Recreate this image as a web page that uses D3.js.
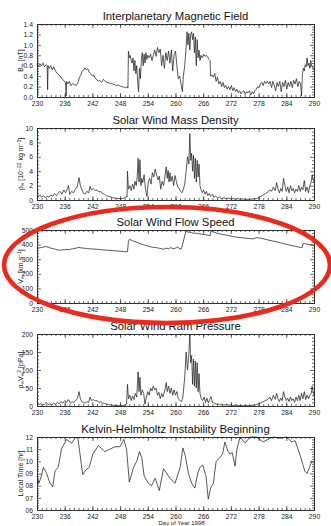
<!DOCTYPE html>
<html><head><meta charset="utf-8">
<script src="https://cdn.jsdelivr.net/npm/d3@7/dist/d3.min.js"></script>
<style>html,body{margin:0;padding:0;background:#fff;}svg{display:block;}</style>
</head><body><div id="chart"></div>
<script>
// ---- data (day of year 1998, value) ----
const xTicks = [230,236,242,248,254,260,266,272,278,284,290];

const imfB = [[230,0.62],[230.3,0.58],[230.6,0.64],[231,0.6],[231.3,0.65],[231.6,0.58],[232,0.62],[232.2,0.6],[232.3,0.14],[232.4,0.6],[232.7,0.55],[233,0.6],[233.3,0.52],[233.6,0.58],[234,0.5],[234.4,0.45],[234.8,0.42],[235.2,0.38],[235.6,0.33],[236,0.3],[236.2,0.28],[236.3,0.02],[236.4,0.3],[236.7,0.25],[237,0.3],[237.3,0.22],[237.7,0.25],[238.1,0.24],[238.5,0.22],[238.9,0.28],[239.2,0.38],[239.5,0.42],[239.8,0.5],[240.1,0.52],[240.4,0.56],[240.7,0.52],[241,0.54],[241.3,0.48],[241.6,0.45],[242,0.4],[242.3,0.42],[242.6,0.36],[243,0.33],[243.3,0.3],[243.6,0.32],[244,0.28],[244.4,0.34],[244.8,0.3],[245.2,0.28],[245.6,0.27],[246,0.26],[246.4,0.25],[246.8,0.24],[247.2,0.22],[247.6,0.23],[248,0.21],[248.4,0.2],[248.8,0.19],[249.2,0.18],[249.5,0.2],[249.7,0.17],[249.8,0.88],[250,0.75],[250.2,0.8],[250.4,0.7],[250.6,0.65],[250.8,0.75],[251,0.5],[251.2,0.7],[251.4,0.45],[251.6,0.6],[251.8,0.3],[252,0.1],[252.2,0.55],[252.4,0.35],[252.6,0.7],[252.8,0.85],[253,0.6],[253.2,0.82],[253.4,0.65],[253.6,0.85],[253.8,0.72],[254,0.8],[254.3,0.75],[254.6,0.82],[254.9,0.7],[255.2,0.8],[255.5,0.9],[255.8,0.78],[256.1,0.95],[256.4,0.85],[256.7,0.92],[257,0.6],[257.3,0.8],[257.6,0.55],[257.9,0.85],[258.2,0.7],[258.5,0.88],[258.8,0.65],[259.1,0.9],[259.4,0.5],[259.7,0.82],[260,0.88],[260.3,0.6],[260.6,0.35],[260.9,0.4],[261.2,0.25],[261.5,0.1],[261.7,0.4],[262,0.6],[262.3,0.95],[262.5,1.25],[262.7,1.0],[262.9,1.22],[263.1,0.9],[263.3,1.2],[263.5,1.25],[263.7,1.1],[263.9,1.22],[264.1,0.85],[264.3,1.15],[264.5,0.6],[264.7,1.1],[264.9,0.75],[265.1,0.9],[265.3,0.7],[265.5,0.8],[265.8,0.75],[266.1,0.82],[266.4,0.78],[266.7,0.8],[267,0.76],[267.3,0.72],[267.5,0.7],[267.6,0.4],[267.9,0.42],[268.2,0.38],[268.5,0.45],[268.8,0.3],[269.1,0.38],[269.4,0.25],[269.7,0.3],[270,0.2],[270.3,0.28],[270.6,0.18],[270.9,0.22],[271.2,0.15],[271.5,0.2],[271.8,0.14],[272.1,0.22],[272.4,0.12],[272.7,0.18],[273,0.1],[273.3,0.15],[273.6,0.08],[273.9,0.12],[274.2,0.06],[274.5,0.1],[274.8,0.12],[275.1,0.05],[275.4,0.1],[275.7,0.08],[276,0.12],[276.3,0.04],[276.6,0.1],[276.9,0.06],[277.2,0.12],[277.5,0.15],[277.8,0.2],[278.1,0.18],[278.4,0.25],[278.7,0.28],[279,0.22],[279.3,0.3],[279.6,0.26],[279.9,0.3],[280.2,0.25],[280.5,0.3],[280.8,0.18],[281.1,0.3],[281.4,0.22],[281.7,0.12],[282,0.28],[282.3,0.2],[282.6,0.3],[282.9,0.1],[283.2,0.28],[283.5,0.2],[283.8,0.32],[284.1,0.15],[284.4,0.28],[284.7,0.2],[285,0.3],[285.3,0.18],[285.6,0.32],[285.9,0.25],[286.2,0.35],[286.5,0.2],[286.8,0.3],[287.1,0.25],[287.3,0.02],[287.5,0.45],[287.7,0.55],[287.9,0.5],[288.1,0.62],[288.3,0.58],[288.5,0.75],[288.7,0.6],[288.9,0.65],[289.1,0.55],[289.3,0.7],[289.5,0.6],[289.7,0.58],[290,0.52]];

const massDensity = [[230,0.8],[230.3,0.5],[230.6,0.7],[231,0.4],[231.4,0.6],[231.8,0.3],[232.2,0.5],[232.6,0.4],[233,0.7],[233.4,0.5],[233.8,0.9],[234.2,0.6],[234.6,1.0],[235,1.2],[235.4,0.8],[235.8,1.4],[236.2,1.0],[236.6,1.6],[236.8,2.0],[237.1,0.8],[237.5,1.2],[237.9,1.0],[238.3,1.5],[238.7,1.8],[239.1,3.1],[239.4,2.0],[239.7,1.5],[240,1.0],[240.4,0.8],[240.8,1.2],[241.2,1.0],[241.5,1.9],[241.8,1.4],[242.2,1.6],[242.6,1.3],[243,1.4],[243.4,1.1],[243.8,1.2],[244.2,0.9],[244.6,0.8],[245,0.6],[245.5,0.5],[246,0.4],[246.5,0.3],[247,0.25],[247.5,0.2],[248,0.2],[248.5,0.2],[249,0.3],[249.3,0.5],[249.5,0.4],[249.6,4.0],[249.8,1.5],[250.1,2.0],[250.4,1.3],[250.7,2.2],[251,1.5],[251.2,2.6],[251.5,2.0],[251.7,3.2],[251.9,5.8],[252.1,2.5],[252.3,5.6],[252.5,2.0],[252.7,3.0],[252.9,2.4],[253.2,3.5],[253.5,1.5],[253.8,0.5],[254.1,2.5],[254.4,3.0],[254.7,2.2],[255,3.8],[255.3,3.2],[255.6,4.3],[255.9,3.5],[256.2,2.8],[256.5,3.3],[256.8,1.5],[257.1,2.6],[257.4,2.0],[257.7,3.2],[258,4.6],[258.2,3.0],[258.4,4.1],[258.6,2.5],[258.8,3.8],[259,2.6],[259.3,3.3],[259.6,2.0],[259.9,3.4],[260.2,2.5],[260.5,1.8],[260.8,1.6],[261.1,1.2],[261.4,1.0],[261.7,1.5],[262,2.2],[262.3,4.0],[262.6,6.0],[262.9,5.0],[263.1,9.2],[263.3,5.5],[263.5,6.5],[263.7,4.0],[263.9,6.2],[264.1,3.0],[264.3,5.8],[264.5,2.5],[264.7,5.5],[264.9,3.2],[265.1,5.0],[265.3,2.0],[265.5,1.5],[265.8,1.0],[266.1,1.4],[266.4,0.8],[266.7,1.2],[267,0.6],[267.3,0.9],[267.6,0.5],[268,0.8],[268.3,0.4],[268.7,0.5],[269.1,0.3],[269.5,0.4],[270,0.2],[270.5,0.3],[271,0.2],[271.5,0.25],[272,0.15],[272.5,0.2],[273,0.1],[273.5,0.2],[274,0.1],[274.5,0.15],[275,0.1],[275.5,0.1],[276,0.1],[276.5,0.12],[277,0.15],[277.5,0.2],[278,0.3],[278.5,0.5],[279,0.7],[279.5,0.9],[280,1.1],[280.4,1.4],[280.8,1.2],[281.2,1.8],[281.6,1.3],[281.9,2.4],[282.2,1.5],[282.5,1.0],[282.8,1.6],[283.1,1.2],[283.4,3.0],[283.7,2.0],[284,1.2],[284.3,1.8],[284.6,1.0],[284.9,2.0],[285.2,1.3],[285.5,1.6],[285.8,1.0],[286.1,1.5],[286.4,1.2],[286.7,2.0],[287,1.2],[287.3,1.8],[287.6,1.4],[287.9,2.7],[288.2,1.2],[288.5,1.8],[288.8,1.0],[289.1,2.0],[289.4,2.5],[289.6,3.5],[289.8,2.8],[290,2.5]];

const flowSpeed = [[230,372],[230.5,378],[231,380],[231.5,384],[232,386],[232.5,382],[233,376],[233.5,372],[234,368],[234.5,364],[235,362],[235.5,364],[236,365],[236.5,367],[237,366],[237.5,370],[238,372],[238.5,376],[239,381],[239.5,378],[240,376],[240.5,374],[241,372],[241.5,371],[242,370],[243,368],[244,365],[245,362],[246,360],[247,357],[248,355],[249,352],[249.6,351],[249.8,420],[250,435],[250.5,430],[251,422],[251.5,418],[252,410],[252.5,404],[253,400],[253.5,395],[254,390],[254.5,386],[255,382],[255.5,380],[256,378],[256.5,375],[257,372],[257.5,368],[258,376],[258.5,371],[259,380],[259.5,370],[260,376],[260.5,382],[261,370],[261.3,372],[261.6,410],[262,460],[262.3,490],[262.7,486],[263,485],[263.5,482],[264,478],[264.5,478],[265,475],[265.5,472],[266,470],[266.5,468],[267,465],[267.5,460],[267.7,495],[268,488],[268.5,484],[269,478],[269.5,474],[270,470],[270.5,468],[271,465],[271.5,462],[272,458],[272.5,455],[273,452],[274,448],[275,445],[276,441],[277,440],[277.5,448],[278,446],[278.5,444],[279,440],[280,432],[281,425],[282,418],[283,410],[284,402],[285,395],[286,388],[287,381],[287.4,378],[287.6,405],[288,406],[288.5,404],[289,400],[289.5,398],[290,393]];

const ramPressure = [[230,8],[230.4,4],[230.8,6],[231.2,3],[231.6,5],[232,10],[232.4,4],[232.8,6],[233.2,3],[233.6,8],[234,5],[234.4,10],[234.8,6],[235.2,12],[235.6,8],[236,15],[236.4,10],[236.8,18],[237.2,8],[237.6,12],[238,10],[238.4,15],[238.8,22],[239.1,40],[239.4,20],[239.7,12],[240,10],[240.4,8],[240.8,12],[241.2,10],[241.5,25],[241.8,15],[242.2,18],[242.6,14],[243,15],[243.4,10],[243.8,12],[244.2,8],[244.6,7],[245,6],[245.5,4],[246,3],[246.5,2],[247,1.5],[247.5,1],[248,1],[248.5,1],[249,2],[249.4,6],[249.6,60],[249.8,20],[250.1,30],[250.4,15],[250.7,28],[251,18],[251.3,35],[251.6,25],[251.9,95],[252.1,40],[252.3,80],[252.5,30],[252.8,45],[253.1,35],[253.4,5],[253.7,25],[254,40],[254.3,30],[254.6,50],[254.9,42],[255.2,55],[255.5,45],[255.8,50],[256.1,30],[256.4,38],[256.7,20],[257,35],[257.3,25],[257.7,45],[258,65],[258.2,40],[258.5,55],[258.8,35],[259.1,50],[259.4,30],[259.7,45],[260,30],[260.3,40],[260.6,20],[261,15],[261.3,12],[261.6,25],[262,80],[262.3,150],[262.6,100],[262.9,145],[263.1,200],[263.3,120],[263.5,140],[263.7,60],[263.9,130],[264.1,55],[264.3,125],[264.5,50],[264.7,120],[264.9,40],[265.1,90],[265.3,35],[265.6,20],[265.9,15],[266.2,25],[266.5,10],[266.8,22],[267.1,8],[267.4,18],[267.7,26],[268,10],[268.4,8],[268.8,5],[269.2,6],[269.6,3],[270,5],[270.5,2],[271,5],[271.5,2],[272,3],[272.5,1],[273,3],[273.5,1],[274,1],[274.5,1],[275,1],[275.5,1],[276,1],[276.5,2],[277,2],[277.5,4],[278,6],[278.5,8],[279,12],[279.5,15],[280,18],[280.4,25],[280.8,15],[281.2,30],[281.6,18],[281.9,35],[282.2,20],[282.5,12],[282.8,22],[283.1,15],[283.4,40],[283.7,25],[284,15],[284.3,22],[284.6,12],[284.9,25],[285.2,15],[285.5,20],[285.8,10],[286.1,25],[286.4,15],[286.7,30],[287,15],[287.3,35],[287.6,20],[287.9,40],[288.2,18],[288.5,30],[288.8,20],[289.1,30],[289.4,35],[289.6,55],[289.8,40],[290,30]];

const khLocalTime = [[230,8.8],[230.4,8.2],[230.8,8.6],[231.4,9.5],[232.1,9.0],[232.8,8.2],[233.4,7.9],[233.9,9.2],[234.6,9.5],[235.3,11.0],[236.4,11.8],[237.5,11.5],[238.4,12.0],[238.9,11.8],[239.9,8.9],[240.6,9.3],[241.3,9.5],[242.1,10.6],[243.3,11.3],[244.7,10.8],[245.8,11.0],[246.9,11.2],[248,11.2],[248.8,11.8],[249.4,11.0],[250,8.3],[250.9,9.5],[251.6,10.0],[252.2,10.8],[252.7,10.3],[253.2,8.8],[254.1,8.2],[254.8,8.0],[255.6,8.6],[256.5,7.6],[257.4,9.4],[258.1,9.0],[258.8,8.6],[259.9,8.2],[261,9.5],[261.6,11.1],[262.1,10.5],[262.8,9.0],[263.5,8.2],[264.2,7.8],[264.8,9.0],[265.3,9.5],[265.9,9.7],[266.6,8.8],[267.1,6.9],[267.6,7.8],[268.2,8.2],[268.8,10.0],[269.6,10.3],[270.2,10.6],[270.7,11.6],[271.4,10.8],[271.8,10.6],[272.3,10.7],[272.9,9.6],[273.3,11.0],[274,12.0],[275.1,11.5],[276.1,12.0],[277.5,12.0],[279,11.6],[280,11.8],[281.2,12.0],[282.6,11.9],[284,12.0],[285.2,11.6],[285.9,11.7],[287,10.5],[288,9.2],[288.5,9.0],[289.5,10.0],[290,9.9]];

// ---- panel definitions ----
const panels = [
  {title:"Interplanetary Magnetic Field", data:imfB, dom:[0,1.4], ticks:[0,0.2,0.4,0.6,0.8,1.0,1.2,1.4], fmt:d3.format(".1f"), minor:4, top:24, bottom:97, ylabParts:[["B",""],["∞","sub"],[" [nT]",""]]},
  {title:"Solar Wind Mass Density", data:massDensity, dom:[0,10], ticks:[0,2,4,6,8,10], fmt:d3.format("d"), minor:4, top:128, bottom:200, ylabParts:[["ρ",""],["∞","sub"],[" [10",""],["−22","sup"],[" kg m",""],["−3","sup"],["]",""]]},
  {title:"Solar Wind Flow Speed", data:flowSpeed, dom:[0,500], ticks:[0,100,200,300,400,500], fmt:d3.format("d"), minor:5, top:230, bottom:303, ylabParts:[["V",""],["∞","sub"],[" [km s",""],["−1","sup"],["]",""]]},
  {title:"Solar Wind Ram Pressure", data:ramPressure, dom:[0,200], ticks:[0,50,100,150,200], fmt:d3.format("d"), minor:5, top:334, bottom:406, ylabParts:[["ρ",""],["∞","sub"],["V",""],["∞","sub"],["2","sup"],[" [pPa]",""]]},
  {title:"Kelvin-Helmholtz Instability Beginning", data:khLocalTime, dom:[6,12], ticks:[6,7,8,9,10,11,12], fmt:d => (d<10?"0":"")+d, minor:5, top:437, bottom:510, ylabParts:[["Local Time  [hr]",""]]}
];

const W = 331, H = 526, L = 37, R = 314;
const svg = d3.select("#chart").append("svg").attr("width",W).attr("height",H)
  .style("font-family","'Liberation Sans', Arial, Helvetica, sans-serif");

const x = d3.scaleLinear().domain([230,290]).range([L,R]);
const ink = "#2a2a2a";

panels.forEach(p => {
  const y = d3.scaleLinear().domain(p.dom).range([p.bottom,p.top]);
  const g = svg.append("g");
  g.append("text").attr("x",(L+R)/2).attr("y",p.top-4.5).attr("text-anchor","middle")
    .attr("font-size",11.3).attr("fill","#111").text(p.title);
  const xMinor = d3.range(230,291,1);
  const yMinor = [];
  for (let i=0;i<p.ticks.length-1;i++){const a=p.ticks[i],b=p.ticks[i+1];for(let k=1;k<p.minor;k++)yMinor.push(a+(b-a)*k/p.minor);}
  const xb = d3.axisBottom(x).tickValues(xTicks).tickSize(-4).tickFormat(d3.format("d")).tickPadding(4.5);
  const xbm = d3.axisBottom(x).tickValues(xMinor).tickSize(-2).tickFormat("");
  const xt = d3.axisTop(x).tickValues(xTicks).tickSize(-4).tickFormat("");
  const xtm = d3.axisTop(x).tickValues(xMinor).tickSize(-2).tickFormat("");
  const yl = d3.axisLeft(y).tickValues(p.ticks).tickSize(-4).tickFormat(p.fmt).tickPadding(4);
  const ylm = d3.axisLeft(y).tickValues(yMinor).tickSize(-2).tickFormat("");
  const yr = d3.axisRight(y).tickValues(p.ticks).tickSize(-4).tickFormat("");
  const yrm = d3.axisRight(y).tickValues(yMinor).tickSize(-2).tickFormat("");
  const add = (ax,tr)=>{const a=g.append("g").attr("transform",tr).call(ax);
    a.select(".domain").attr("stroke",ink).attr("stroke-width",0.8);
    a.selectAll(".tick line").attr("stroke",ink).attr("stroke-width",0.7);
    a.selectAll("text").attr("font-size",6.8).attr("fill","#222").attr("font-family","'Liberation Sans', Arial, sans-serif");
    return a;};
  add(xb,`translate(0,${p.bottom})`); add(xbm,`translate(0,${p.bottom})`);
  add(xt,`translate(0,${p.top})`); add(xtm,`translate(0,${p.top})`);
  add(yl,`translate(${L},0)`); add(ylm,`translate(${L},0)`);
  add(yr,`translate(${R},0)`); add(yrm,`translate(${R},0)`);
  g.append("path").datum(p.data)
    .attr("d", d3.line().x(d=>x(d[0])).y(d=>y(d[1])))
    .attr("fill","none").attr("stroke","#222").attr("stroke-width",0.75).attr("stroke-linejoin","round");
  const cy = (p.top+p.bottom)/2;
  const t = g.append("text").attr("transform",`translate(22.5,${cy}) rotate(-90)`)
    .attr("text-anchor","middle").attr("font-size",7).attr("fill","#222");
  p.ylabParts.forEach(([s,k])=>{
    const ts=t.append("tspan").text(s);
    if(k==="sub") ts.attr("font-size",5).attr("baseline-shift","-25%");
    if(k==="sup") ts.attr("font-size",5).attr("baseline-shift","40%");
  });
});

// x axis label at the very bottom
svg.append("text").attr("x",(L+R)/2+6).attr("y",524.6).attr("text-anchor","middle")
  .attr("font-size",6).attr("fill","#222").text("Day of Year 1998");

// red hand-drawn ellipse highlight
svg.append("ellipse").attr("cx",167).attr("cy",265).attr("rx",163).attr("ry",58)
  .attr("fill","none").attr("stroke","#ec2a1c").attr("stroke-width",4.6);
</script>
</body></html>
